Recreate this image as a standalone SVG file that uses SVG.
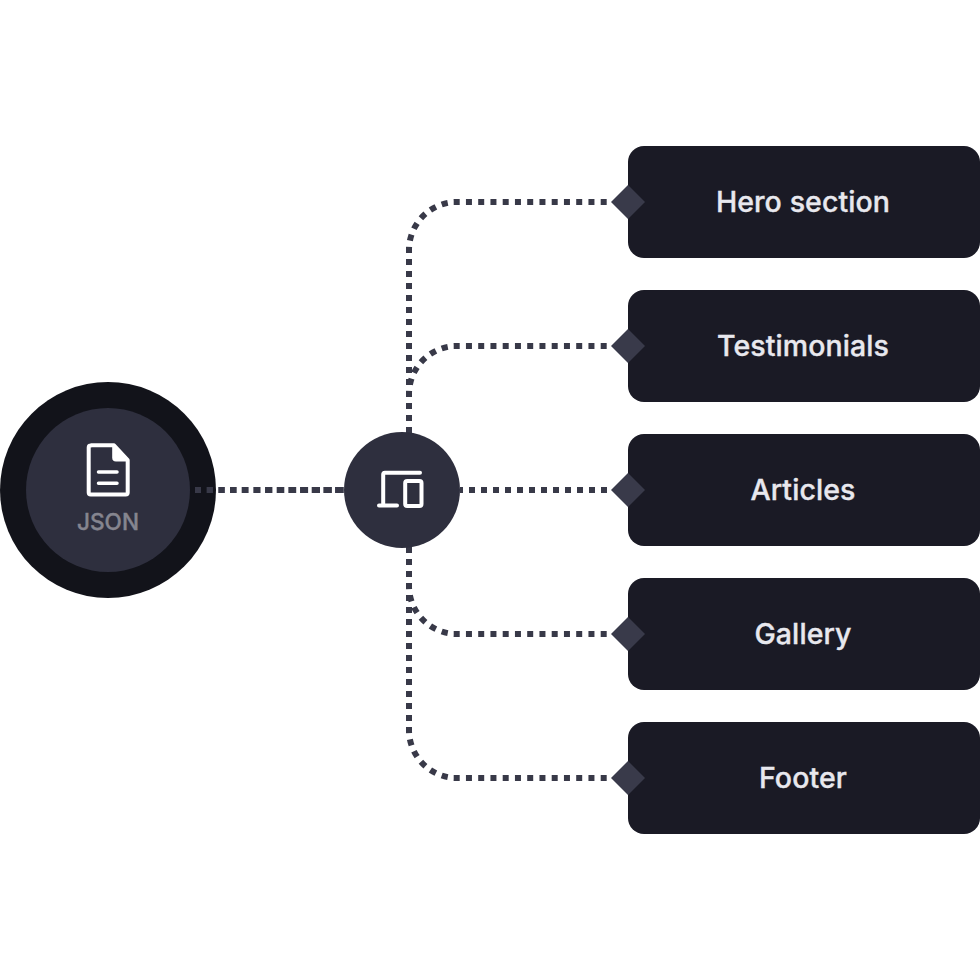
<svg xmlns="http://www.w3.org/2000/svg" width="980" height="980" viewBox="0 0 980 980">
<style>
.box{fill:#1a1a25}
.dia{fill:#393a4a}
.lbl{font-family:"Inter","Liberation Sans",sans-serif;font-size:28.5px;font-weight:500;fill:#e8e8ee;stroke:#e8e8ee;stroke-width:.35px;text-anchor:middle;letter-spacing:.1px}
.c{fill:none;stroke:#383948;stroke-width:6}
.v{stroke-dasharray:6 6}
.h{stroke-dasharray:6 6.25}
.a{stroke-dasharray:6.28 6.285;stroke-dashoffset:3.14}
.i{fill:none;stroke:#fff;stroke-linecap:round;stroke-linejoin:round}
</style>
<rect width="980" height="980" fill="#fff"/>
<g id="node-json">
<circle cx="108" cy="490" r="108" fill="#12131a"/>
<circle cx="108" cy="490" r="82" fill="#2e2f3e"/>
<path class="i" stroke-width="4" d="M91 445.3H114L127.7 460V492.5a2 2 0 0 1-2 2H90.7a2 2 0 0 1-2-2V447.5a2 2 0 0 1 2-2z"/>
<path d="M112.2 445H115L128.5 459V461.5H116a3.8 3.8 0 0 1-3.8-3.8z" fill="#fff"/>
<path class="i" stroke-width="3.5" d="M98.5 472H117M98.5 483.3H117"/>
<text x="108" y="529.5" font-family="Inter,'Liberation Sans',sans-serif" font-size="22.6" font-weight="500" fill="#85858f" stroke="#85858f" stroke-width=".35" text-anchor="middle">JSON</text>
</g>
<g id="connectors">
<path class="c" stroke-dasharray="6 5.67" d="M195 490H345"/>
<path class="c" stroke-dasharray="6 5.9" d="M195 490H345"/>
<path class="c" stroke-dasharray="6 6" d="M607 490H460"/>
<path class="c v" d="M409 433V247"/>
<path class="c v" d="M409 547V733"/>
<path class="c a" d="M409 250A48 48 0 0 1 457 202"/>
<path class="c h" d="M606.7 202H453.7"/>
<path class="c a" d="M409 394A48 48 0 0 1 457 346"/>
<path class="c h" d="M606.7 346H453.7"/>
<path class="c a" d="M409 586A48 48 0 0 0 457 634"/>
<path class="c h" d="M606.7 634H453.7"/>
<path class="c a" d="M409 730A48 48 0 0 0 457 778"/>
<path class="c h" d="M606.7 778H453.7"/>
</g>
<g id="node-hub">
<circle cx="402" cy="490" r="58" fill="#2e2f3e"/>
<path class="i" stroke-width="4" d="M420 472.8H385a1.8 1.8 0 0 0-1.8 1.8V505.6M379 505.6H397"/>
<rect class="i" x="405.2" y="481" width="16.3" height="25" rx="2" stroke-width="4"/>
</g>
<g id="node-hero">
<rect class="box" x="628" y="146" width="352" height="112" rx="16"/>
<path class="dia" d="M628 185L645 202L628 219L611 202Z"/>
<text class="lbl" x="803" y="212">Hero section</text>
</g>
<g id="node-testimonials">
<rect class="box" x="628" y="290" width="352" height="112" rx="16"/>
<path class="dia" d="M628 329L645 346L628 363L611 346Z"/>
<text class="lbl" x="803" y="356">Testimonials</text>
</g>
<g id="node-articles">
<rect class="box" x="628" y="434" width="352" height="112" rx="16"/>
<path class="dia" d="M628 473L645 490L628 507L611 490Z"/>
<text class="lbl" x="803" y="500">Articles</text>
</g>
<g id="node-gallery">
<rect class="box" x="628" y="578" width="352" height="112" rx="16"/>
<path class="dia" d="M628 617L645 634L628 651L611 634Z"/>
<text class="lbl" x="803" y="644">Gallery</text>
</g>
<g id="node-footer">
<rect class="box" x="628" y="722" width="352" height="112" rx="16"/>
<path class="dia" d="M628 761L645 778L628 795L611 778Z"/>
<text class="lbl" x="803" y="788">Footer</text>
</g>
</svg>
